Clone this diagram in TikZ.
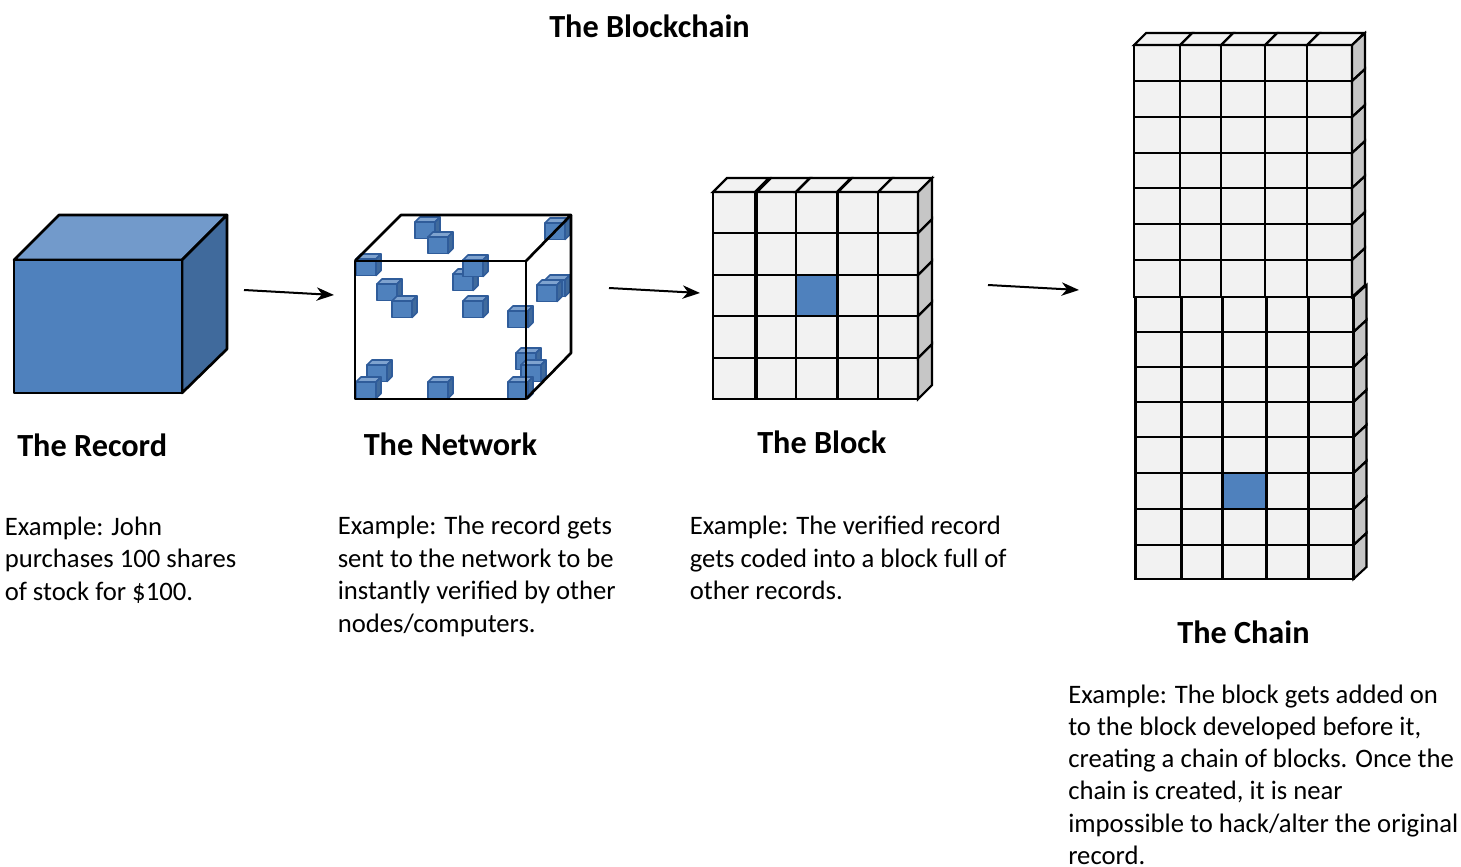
\documentclass[tikz,border=0pt]{standalone}
\usepackage{fontspec}
\setmainfont{Carlito}
\definecolor{cubeblue}{HTML}{4F81BD}
\definecolor{cubetop}{HTML}{729ACB}
\definecolor{cubeside}{HTML}{406A9C}
\definecolor{tinyedge}{HTML}{2F5C9A}
\definecolor{tinytop}{HTML}{7FA3CF}
\definecolor{cellfill}{HTML}{F2F2F2}
\definecolor{cellside}{HTML}{C6C6C6}
\usetikzlibrary{arrows.meta}
\tikzset{
  cubeline/.style={draw=black,line width=2pt,line join=round},
  cellline/.style={draw=black,line width=1.6pt,line join=miter},
  tinyline/.style={draw=tinyedge,line width=1.2pt,line join=round},
  flowarrow/.style={draw=black,line width=1.5pt,-{Stealth[length=13pt,width=10pt,inset=4pt]}},
  headtext/.style={font=\bfseries\fontsize{24.2}{28}\selectfont,anchor=base west,inner sep=0pt},
  bodytext/.style={font=\fontsize{20}{24.4}\selectfont,align=left,anchor=north west,inner sep=0pt},
}
\newcommand{\tinycube}[2]{%
  \fill[tinytop,tinyline] (#1,#2+5) -- ++(5,-5) -- ++(20,0) -- ++(-5,5) -- cycle;
  \fill[cubeside,tinyline] (#1+20,#2+5) -- ++(5,-5) -- ++(0,16.5) -- ++(-5,5) -- cycle;
  \fill[cubeblue,tinyline] (#1,#2+5) rectangle ++(20,16.5);
}
\begin{document}
\begin{tikzpicture}[x=0.75pt,y=-0.75pt]
\useasboundingbox (0,0) rectangle (1461,867);

% Record cube
\fill[cubetop,cubeline] (14,260) -- (59,215) -- (227,215) -- (182,260) -- cycle;
\fill[cubeside,cubeline] (182,260) -- (227,215) -- (227,349) -- (182,393) -- cycle;
\fill[cubeblue,cubeline] (14,260) rectangle (182,393);

% Network cube
\foreach \cx/\cy in {415/217,428/232,545/218,356/254,453/269,463/255,377/279,392/296,463/296,508/306,
  545/275,537/280,516/348,521/360,508/377,367/360,356/377,428/377}{
  \tinycube{\cx}{\cy}
}
\draw[cubeline] (355,261) rectangle (526,399);
\draw[cubeline] (355,261) -- (401,215) -- (571,215) -- (526,261);
\draw[cubeline] (571,215) -- (571,353) -- (526,399);

% Block: fills first, then outlines
\foreach \ya/\yb in {192/233,233/275,275/316,316/358,358/399}{
  \fill[cellside] (918,\ya) -- (932,\ya-14) -- (932,\yb-14) -- (918,\yb) -- cycle;
  \foreach \xa/\xb in {713/755,757/796,796/837,838/878,878/918}{
    \fill[cellfill] (\xa,\ya) rectangle (\xb,\yb);
  }
}
\foreach \xa/\xb in {713/755,757/796,796/837,838/878,878/918}{
  \fill[cellfill] (\xa,192) -- (\xa+14,178) -- (\xb+14,178) -- (\xb,192) -- cycle;
}
\fill[cubeblue] (796,275) rectangle (837,316);
\foreach \ya/\yb in {192/233,233/275,275/316,316/358,358/399}{
  \draw[cellline] (918,\ya) -- (932,\ya-14) -- (932,\yb-14) -- (918,\yb) -- cycle;
  \foreach \xa/\xb in {713/755,757/796,796/837,838/878,878/918}{
    \draw[cellline] (\xa,\ya) rectangle (\xb,\yb);
  }
}
\foreach \xa/\xb in {713/755,757/796,796/837,838/878,878/918}{
  \draw[cellline] (\xa,192) -- (\xa+14,178) -- (\xb+14,178) -- (\xb,192) -- cycle;
}

% Chain: fills first, then outlines
\foreach \ya/\yb/\o in {45/81/0,81/117/0,117/153/0,153/188/0,188/224/0,224/260/0,260/297/0,
  297/332/1.5,332/367/1.5,367/402/1.5,402/437/1.5,437/473/1.5,473/509/1.5,509/545/1.5,545/579/1.5}{
  \fill[cellside] (1352+\o,\ya) -- (1365+\o,\ya-12) -- (1365+\o,\yb-12) -- (1352+\o,\yb) -- cycle;
  \foreach \xa/\xb in {1134/1180,1180/1221,1221/1265,1265/1307,1307/1352}{
    \fill[cellfill] (\xa+\o,\ya) rectangle (\xb+\o,\yb);
  }
}
\foreach \xa/\xb in {1134/1180,1180/1221,1221/1265,1265/1307,1307/1352}{
  \fill[cellfill] (\xa,45) -- (\xa+12,33) -- (\xb+12,33) -- (\xb,45) -- cycle;
}
\fill[cubeblue] (1222.5,473) rectangle (1266.5,509);
\foreach \ya/\yb/\o in {45/81/0,81/117/0,117/153/0,153/188/0,188/224/0,224/260/0,260/297/0,
  297/332/1.5,332/367/1.5,367/402/1.5,402/437/1.5,437/473/1.5,473/509/1.5,509/545/1.5,545/579/1.5}{
  \draw[cellline] (1352+\o,\ya) -- (1365+\o,\ya-12) -- (1365+\o,\yb-12) -- (1352+\o,\yb) -- cycle;
  \foreach \xa/\xb in {1134/1180,1180/1221,1221/1265,1265/1307,1307/1352}{
    \draw[cellline] (\xa+\o,\ya) rectangle (\xb+\o,\yb);
  }
}
\foreach \xa/\xb in {1134/1180,1180/1221,1221/1265,1265/1307,1307/1352}{
  \draw[cellline] (\xa,45) -- (\xa+12,33) -- (\xb+12,33) -- (\xb,45) -- cycle;
}

% Arrows
\coordinate (a1s) at (244,290); \coordinate (a1e) at (334,295);
\coordinate (a2s) at (609,288); \coordinate (a2e) at (700,293);
\coordinate (a3s) at (988,285); \coordinate (a3e) at (1079,290);
\draw[flowarrow] (a1s) -- (a1e);
\draw[flowarrow] (a2s) -- (a2e);
\draw[flowarrow] (a3s) -- (a3e);

% Text
\node[headtext] (title) at (549,38) {The Blockchain};
\node[headtext] (recordhead) at (17,456) {The Record};
\node[headtext] (networkhead) at (363.5,455) {The Network};
\node[headtext] (blockhead) at (757,453) {The Block};
\node[headtext] (chainhead) at (1177,643) {The Chain};
\node[bodytext] (recordtext) at (4.5,516.5) {Example: John\\purchases 100 shares\\of stock for \$100.};
\node[bodytext] (networktext) at (337.5,516) {Example: The record gets\\sent to the network to be\\instantly verified by other\\nodes/computers.};
\node[bodytext] (blocktext) at (689.5,516) {Example: The verified record\\gets coded into a block full of\\other records.};
\node[bodytext,font=\fontsize{20}{24.15}\selectfont] (chaintext) at (1068,684.5) {Example: The block gets added on\\to the block developed before it,\\creating a chain of blocks. Once the\\chain is created, it is near\\impossible to hack/alter the original\\record.};
\end{tikzpicture}
\end{document}
